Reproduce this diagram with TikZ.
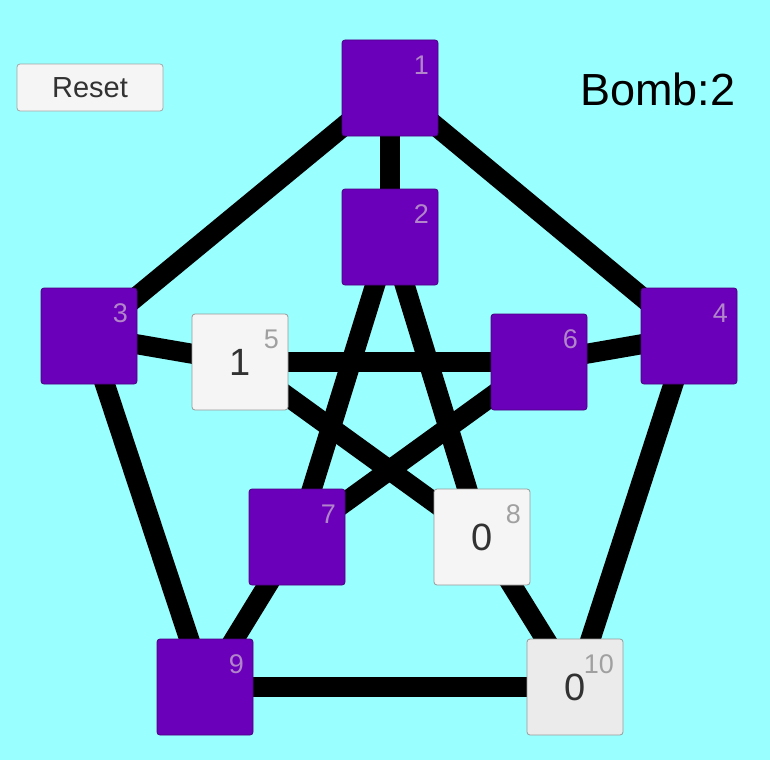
\documentclass[tikz,border=0pt]{standalone}
\usepackage{fontspec}
\setmainfont{Liberation Sans}
\usetikzlibrary{positioning,backgrounds,calc}
\definecolor{sky}{RGB}{153,255,255}
\definecolor{grape}{RGB}{106,0,186}
\definecolor{grapeedge}{RGB}{72,0,128}
\definecolor{paper}{RGB}{245,245,245}
\definecolor{paperdim}{RGB}{235,235,235}
\definecolor{ink}{RGB}{50,50,50}
\definecolor{tag}{RGB}{160,160,160}
\definecolor{tagdim}{RGB}{178,132,202}
\tikzstyle{cell}=[rectangle, rounded corners=3pt, minimum size=96pt, inner sep=0pt, line width=0.8pt]
\tikzstyle{hidden}=[cell, fill=grape, draw=grapeedge]
\tikzstyle{open}=[cell, fill=paper, draw=gray!80, text=ink, font=\fontsize{38}{40}\selectfont]
\tikzstyle{tagtext}=[inner sep=0pt, anchor=east, font=\fontsize{27}{28}\selectfont]
\tikzstyle{button}=[rectangle, rounded corners=3pt, draw=gray!70, fill=paper, line width=0.8pt, minimum width=146pt, minimum height=47pt, text=ink, font=\fontsize{29}{30}\selectfont]
\tikzstyle{line}=[-, line width=20pt, black]
\newcommand\tile[6][]{
            \node (#2) [#1] at (#3) {#4};
            \node ({#2}n) [tagtext, text=#6] at ([shift={(39,-23)}]#2.center) {#5};
        }

\begin{document}
\begin{tikzpicture}[x=1pt, y=-1pt]

    \useasboundingbox (0,0) rectangle (770,760);
    \begin{scope}[on background layer]
        \fill[sky] (0,0) rectangle (770,760);
    \end{scope}

    \node (reset) [button] at (90,87.5) {Reset};
    \node (bomb) [inner sep=0pt, anchor=west, font=\fontsize{45}{46}\selectfont] at (580,89) {Bomb:2};

% outer ring
    \tile[hidden]{c1}{390,88}{}{1}{tagdim};
    \tile[hidden]{c3}{89,336}{}{3}{tagdim};
    \tile[hidden]{c4}{689,336}{}{4}{tagdim};
    \tile[hidden]{c9}{205,687}{}{9}{tagdim};
    \tile[open, fill=paperdim]{c10}{575,687}{0}{10}{tag};
% inner star
    \tile[hidden]{c2}{390,237}{}{2}{tagdim};
    \tile[open]{c5}{240,362}{1}{5}{tag};
    \tile[hidden]{c6}{539,362}{}{6}{tagdim};
    \tile[hidden]{c7}{297,537}{}{7}{tagdim};
    \tile[open]{c8}{482,537}{0}{8}{tag};

    \begin{scope}[on background layer]
   \draw[line] (c1.center) -- (c2.center);
   \draw[line] (c1.center) -- (c3.center);
   \draw[line] (c1.center) -- (c4.center);
   \draw[line] (c3.center) -- (c5.center);
   \draw[line] (c3.center) -- (c9.center);
   \draw[line] (c4.center) -- (c6.center);
   \draw[line] (c4.center) -- (c10.center);
   \draw[line] (c9.center) -- (c10.center);
%spokes of the star
   \draw[line] (c2.center) -- (c7.center);
   \draw[line] (c2.center) -- (c8.center);
   \draw[line] (c5.center) -- (c6.center);
   \draw[line] (c5.center) -- (c8.center);
   \draw[line] (c6.center) -- (c7.center);
   \draw[line] (c7.center) -- (c9.center);
   \draw[line] (c8.center) -- (c10.center);
    \end{scope}

\end{tikzpicture}
\end{document}
